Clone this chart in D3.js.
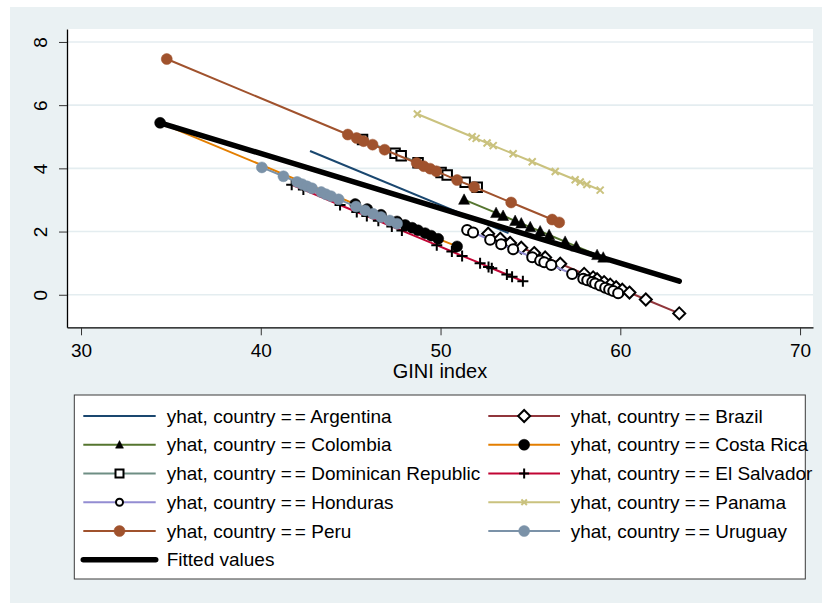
<!DOCTYPE html>
<html>
<head>
<meta charset="utf-8">
<script src="https://cdn.jsdelivr.net/npm/d3@7"></script>
<style>
  html, body { margin: 0; padding: 0; background: #ffffff; }
  svg { display: block; font-family: "Liberation Sans", Arial, sans-serif; }
</style>
</head>
<body>
<svg id="chart" width="822" height="603"></svg>
<script>
// ---------------- DATA ----------------
const countries = ["Argentina", "Brazil", "Colombia", "Costa Rica", "Dominican Republic",
                   "El Salvador", "Honduras", "Panama", "Peru", "Uruguay"];

const giniArgentina = [42.74, 53.78];
const yhatArgentina = [4.55, 1.95];

const giniBrazil = [52.65, 53.32, 53.87, 54.49, 55.21, 55.82, 56.66, 57.99, 58.49, 58.71, 59.10, 59.44, 59.77, 60.11, 60.51, 61.42, 63.28];
const yhatBrazil = [1.93, 1.77, 1.64, 1.49, 1.32, 1.18, 0.98, 0.66, 0.55, 0.49, 0.40, 0.32, 0.24, 0.16, 0.07, -0.15, -0.59];

const giniColombia = [51.31, 53.09, 53.48, 54.15, 54.49, 54.99, 55.54, 56.04, 56.93, 57.55, 58.71, 59.05];
const yhatColombia = [3.01, 2.59, 2.50, 2.34, 2.26, 2.14, 2.01, 1.89, 1.68, 1.53, 1.26, 1.18];

const giniCostaRica = [34.40, 45.25, 45.92, 46.69, 47.58, 48.03, 48.42, 48.75, 49.14, 49.48, 49.87, 50.92];
const yhatCostaRica = [5.44, 2.87, 2.71, 2.53, 2.32, 2.21, 2.12, 2.04, 1.95, 1.87, 1.77, 1.53];

const giniDominican = [45.66, 47.47, 47.81, 48.75, 50.03, 50.37, 51.37, 52.04];
const yhatDominican = [4.91, 4.48, 4.40, 4.18, 3.87, 3.79, 3.56, 3.40];

const giniElSalvador = [41.72, 42.37, 44.41, 45.34, 45.90, 46.54, 47.29, 47.85, 49.79, 50.63, 51.20, 52.20, 52.67, 52.85, 53.69, 53.98, 54.58];
const yhatElSalvador = [3.48, 3.33, 2.84, 2.62, 2.49, 2.34, 2.16, 2.03, 1.57, 1.37, 1.23, 1.00, 0.88, 0.84, 0.64, 0.57, 0.43];

const giniHonduras = [51.48, 51.81, 52.76, 53.37, 54.04, 55.10, 55.54, 55.77, 56.16, 57.32, 57.94, 58.16, 58.44, 58.60, 58.88, 59.16, 59.38, 59.61, 59.88];
const yhatHonduras = [2.05, 1.97, 1.74, 1.60, 1.44, 1.19, 1.08, 1.03, 0.94, 0.66, 0.51, 0.46, 0.40, 0.36, 0.29, 0.22, 0.17, 0.12, 0.05];

const giniPanama = [48.71, 51.76, 51.98, 52.59, 52.93, 54.04, 55.10, 56.38, 57.49, 57.77, 58.14, 58.88];
const yhatPanama = [5.72, 5.00, 4.95, 4.80, 4.72, 4.46, 4.21, 3.90, 3.64, 3.57, 3.49, 3.31];

const giniPeru = [34.77, 44.84, 45.33, 45.72, 46.22, 46.89, 48.67, 49.06, 49.42, 49.76, 50.92, 51.87, 53.93, 56.21, 56.60];
const yhatPeru = [7.46, 5.07, 4.96, 4.86, 4.75, 4.59, 4.17, 4.07, 3.99, 3.91, 3.63, 3.41, 2.92, 2.38, 2.29];

const giniUruguay = [40.06, 41.26, 42.02, 42.30, 42.58, 42.85, 43.36, 43.63, 43.91, 44.33, 45.30, 45.80, 46.25, 46.69, 47.17, 47.58];
const yhatUruguay = [4.03, 3.75, 3.57, 3.50, 3.43, 3.37, 3.25, 3.18, 3.12, 3.02, 2.79, 2.67, 2.56, 2.46, 2.35, 2.25];

const giniFitted = [34.40, 63.28];
const yhatFitted = [5.44, 0.43];

const xTicks = [30, 40, 50, 60, 70];
const yTicks = [0, 2, 4, 6, 8];
const xTitle = "GINI index";
const fittedLabel = "Fitted values";

// ---------------- STYLES ----------------
const bg = "#eaf1f3";
const styles = {
  "Argentina":          { line: "#1a476f", marker: "none" },
  "Brazil":             { line: "#90353b", marker: "diamond",  fill: "#ffffff", stroke: "#000000" },
  "Colombia":           { line: "#55752f", marker: "triangle", fill: "#000000", stroke: "#000000" },
  "Costa Rica":         { line: "#e37e00", marker: "circle",   fill: "#000000", stroke: "#000000" },
  "Dominican Republic": { line: "#6e8e84", marker: "square",   fill: "#ffffff", stroke: "#000000" },
  "El Salvador":        { line: "#c10534", marker: "plus",     fill: "none",    stroke: "#000000" },
  "Honduras":           { line: "#938dd2", marker: "ocircle",  fill: "#ffffff", stroke: "#000000" },
  "Panama":             { line: "#cac27e", marker: "x",        fill: "none",    stroke: "#cac27e" },
  "Peru":               { line: "#a0522d", marker: "circle",   fill: "#a0522d", stroke: "#a0522d" },
  "Uruguay":            { line: "#7b92a8", marker: "circle",   fill: "#7b92a8", stroke: "#7b92a8" }
};

const seriesData = {
  "Argentina": [giniArgentina, yhatArgentina],
  "Brazil": [giniBrazil, yhatBrazil],
  "Colombia": [giniColombia, yhatColombia],
  "Costa Rica": [giniCostaRica, yhatCostaRica],
  "Dominican Republic": [giniDominican, yhatDominican],
  "El Salvador": [giniElSalvador, yhatElSalvador],
  "Honduras": [giniHonduras, yhatHonduras],
  "Panama": [giniPanama, yhatPanama],
  "Peru": [giniPeru, yhatPeru],
  "Uruguay": [giniUruguay, yhatUruguay]
};

// ---------------- LAYOUT ----------------
const svg = d3.select("#chart");
const W = 822, H = 603;
const plot = { left: 67, right: 813, top: 29, bottom: 327.3 };

svg.append("rect").attr("x", 0).attr("y", 0).attr("width", W).attr("height", H).attr("fill", "#ffffff");
svg.append("rect").attr("x", 10).attr("y", 7).attr("width", W - 10).attr("height", H - 7).attr("fill", bg);
svg.append("rect").attr("x", plot.left).attr("y", plot.top)
  .attr("width", plot.right - plot.left).attr("height", plot.bottom - plot.top).attr("fill", "#ffffff");

const x = d3.scaleLinear().domain([29.22, 70.72]).range([plot.left, plot.right]);
const y = d3.scaleLinear().domain([-1.03, 8.41]).range([plot.bottom, plot.top]);

// gridlines
svg.append("g").selectAll("line").data(yTicks).join("line")
  .attr("x1", plot.left).attr("x2", plot.right)
  .attr("y1", d => y(d)).attr("y2", d => y(d))
  .attr("stroke", "#e4edf0").attr("stroke-width", 1.6);

// marker path generator
function markerPath(type, s) {
  switch (type) {
    case "circle":
    case "ocircle": {
      const r = s / 2;
      return `M${-r},0A${r},${r} 0 1,0 ${r},0A${r},${r} 0 1,0 ${-r},0Z`;
    }
    case "square": { const h = s / 2; return `M${-h},${-h}H${h}V${h}H${-h}Z`; }
    case "diamond": { const h = s / 2; return `M0,${-h}L${h},0L0,${h}L${-h},0Z`; }
    case "triangle": { const h = s / 2; return `M0,${-h * 1.05}L${h},${h * 0.85}L${-h},${h * 0.85}Z`; }
    case "plus": { const h = s / 2; return `M${-h},0H${h}M0,${-h}V${h}`; }
    case "x": { const h = s / 2; return `M${-h},${-h}L${h},${h}M${-h},${h}L${h},${-h}`; }
  }
  return "";
}
const plotSize = { circle: 11, ocircle: 10, square: 9.5, diamond: 12, triangle: 11, plus: 11, x: 7 };
const legSize  = { circle: 11, ocircle: 7, square: 8, diamond: 12, triangle: 8, plus: 10, x: 5.5 };
const strokeW  = { circle: 0.5, ocircle: 2, square: 2, diamond: 2, triangle: 0.5, plus: 2, x: 2 };

const lineGen = d3.line().x(d => x(d[0])).y(d => y(d[1]));

// series
countries.forEach(c => {
  const [gx, gy] = seriesData[c];
  const pts = gx.map((v, i) => [v, gy[i]]);
  const st = styles[c];
  const g = svg.append("g");
  g.append("path").attr("d", lineGen(pts)).attr("fill", "none")
    .attr("stroke", st.line).attr("stroke-width", 2);
  if (st.marker !== "none") {
    g.selectAll("path.m").data(pts).join("path").attr("class", "m")
      .attr("transform", d => `translate(${x(d[0])},${y(d[1])})`)
      .attr("d", markerPath(st.marker, plotSize[st.marker]))
      .attr("fill", st.fill).attr("stroke", st.stroke)
      .attr("stroke-width", strokeW[st.marker]);
  }
});

// fitted line
svg.append("path")
  .attr("d", lineGen(giniFitted.map((v, i) => [v, yhatFitted[i]])))
  .attr("fill", "none").attr("stroke", "#000").attr("stroke-width", 5.5)
  .attr("stroke-linecap", "round");

// axes
const xAxis = svg.append("g").attr("transform", `translate(0,${plot.bottom})`)
  .call(d3.axisBottom(x).tickValues(xTicks).tickSize(8).tickSizeOuter(0).tickFormat(d3.format("d")));
xAxis.select(".domain").attr("stroke", "#000").attr("stroke-width", 1.3);
xAxis.selectAll(".tick line").attr("stroke", "#333").attr("stroke-width", 1);
xAxis.selectAll(".tick text").attr("y", 30).attr("dy", 0)
  .attr("font-size", 19).attr("fill", "#000").attr("font-family", "Liberation Sans, Arial, sans-serif");

const yAxis = svg.append("g").attr("transform", `translate(${plot.left},0)`)
  .call(d3.axisLeft(y).tickValues(yTicks).tickSize(8).tickSizeOuter(0).tickFormat(d3.format("d")));
yAxis.select(".domain").attr("stroke", "#000").attr("stroke-width", 1.3);
yAxis.selectAll(".tick line").attr("stroke", "#333").attr("stroke-width", 1);
yAxis.selectAll(".tick text").attr("x", 0).attr("dy", 0)
  .attr("transform", "translate(-20,0) rotate(-90)")
  .attr("text-anchor", "middle")
  .attr("font-size", 19).attr("fill", "#000").attr("font-family", "Liberation Sans, Arial, sans-serif");

svg.append("text").attr("x", (plot.left + plot.right) / 2).attr("y", 377.5)
  .attr("text-anchor", "middle").attr("font-size", 20).attr("fill", "#000").text(xTitle);

// legend
const leg = { x: 74.3, y: 395, w: 731, h: 184 };
svg.append("rect").attr("x", leg.x).attr("y", leg.y).attr("width", leg.w).attr("height", leg.h)
  .attr("fill", "#fff").attr("stroke", "#3a3a3a").attr("stroke-width", 1);

const legendEntries = countries.map(c => ({ label: c, st: styles[c], fitted: false }))
  .concat([{ label: fittedLabel, fitted: true }]);
const colLineX = [[83.3, 155.7], [488.3, 560]];
const colTextX = [166.7, 570.7];
legendEntries.forEach((e, k) => {
  const col = k % 2, row = Math.floor(k / 2);
  const ry = 416 + row * 28.75;
  const [lx1, lx2] = colLineX[col];
  const g = svg.append("g");
  if (e.fitted) {
    g.append("line").attr("x1", lx1).attr("x2", lx2).attr("y1", ry).attr("y2", ry)
      .attr("stroke", "#000").attr("stroke-width", 5.5).attr("stroke-linecap", "round");
    g.append("text").attr("x", colTextX[col]).attr("y", ry + 6.6)
      .attr("font-size", 19).attr("fill", "#000").text(e.label);
  } else {
    g.append("line").attr("x1", lx1).attr("x2", lx2).attr("y1", ry).attr("y2", ry)
      .attr("stroke", e.st.line).attr("stroke-width", 2);
    if (e.st.marker !== "none") {
      g.append("path").attr("transform", `translate(${(lx1 + lx2) / 2},${ry})`)
        .attr("d", markerPath(e.st.marker, legSize[e.st.marker]))
        .attr("fill", e.st.fill).attr("stroke", e.st.stroke)
        .attr("stroke-width", strokeW[e.st.marker]);
    }
    const t = g.append("text").attr("x", colTextX[col]).attr("y", ry + 6.6)
      .attr("font-size", 19).attr("fill", "#000");
    t.append("tspan").text("yhat, country ");
    t.append("tspan").attr("letter-spacing", 3).text("=");
    t.append("tspan").text("= " + e.label);
  }
});
</script>
</body>
</html>
